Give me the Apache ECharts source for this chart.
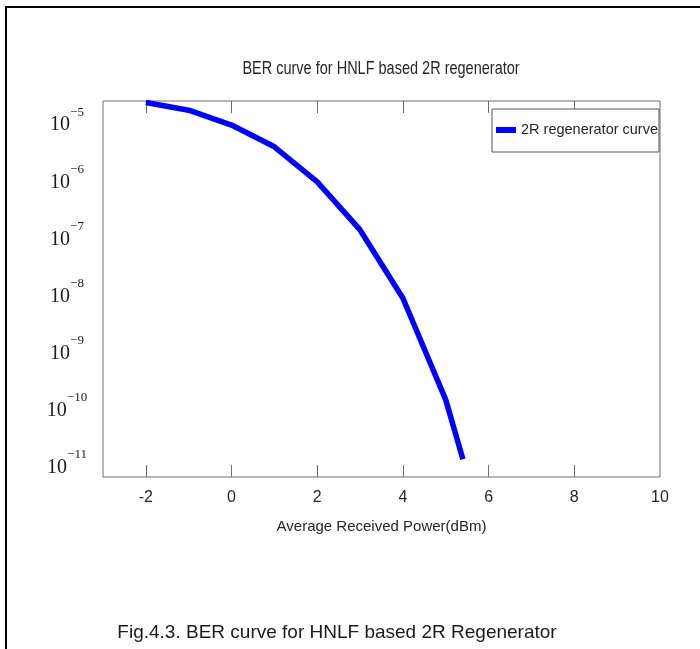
<!DOCTYPE html>
<html>
<head>
<meta charset="utf-8">
<script src="https://cdn.jsdelivr.net/npm/echarts@6/dist/echarts.min.js"></script>
<style>
  body { margin: 0; background: #fff; }
  #container { position: absolute; left: 0; top: 0; width: 700px; height: 649px; }
  #frame { position: absolute; left: 5px; top: 6px; width: 695px; height: 643px;
           border-top: 2px solid #000; border-left: 2px solid #000; pointer-events: none; }
</style>
</head>
<body>
<div id="container"></div>
<div id="frame"></div>
<script>
// data
var powers = [-2, -1, 0, 1, 2, 3, 4, 5, 5.4];   // Average Received Power (dBm)
var ber = [2.2e-5, 1.62e-5, 8.9e-6, 3.7e-6, 9.0e-7, 1.3e-7, 8.3e-9, 1.38e-10, 1.26e-11];
var xLabelValues = [-2, 0, 2, 4, 6, 8, 10];
var xTickValues = [-2, 0, 2, 4, 6, 8];
var seriesName = '2R regenerator curve';
var chartTitle = 'BER curve for HNLF based 2R regenerator';
var xName = 'Average Received Power(dBm)';
var caption = 'Fig.4.3. BER curve for HNLF based 2R Regenerator';

var sans = "'Liberation Sans', Arial, sans-serif";
var serif = "'Liberation Serif', 'Times New Roman', serif";
var frameColor = '#6e6e6e';

var points = [];
for (var i = 0; i < powers.length; i++) {
    points.push([powers[i], ber[i]]);
}

var myChart = echarts.init(document.getElementById('container'));

myChart.setOption({
    animation: false,
    graphic: [
        {
            type: 'text', x: 381, y: 69, scaleY: 1.3,
            style: { text: chartTitle, fontFamily: sans, fontSize: 14.5, fill: '#262626',
                     align: 'center', verticalAlign: 'middle' }
        },
        {
            type: 'text', x: 337, y: 633,
            style: { text: caption, fontFamily: sans, fontSize: 19,
                     fill: '#1a1a1a', align: 'center', verticalAlign: 'middle' }
        }
    ],
    grid: {
        left: 103, right: 40, top: 101, bottom: 172,
        show: true, borderColor: frameColor, borderWidth: 1, backgroundColor: '#fff'
    },
    legend: {
        left: 492, top: 109,
        padding: [11, 1, 12, 4],
        borderColor: '#555', borderWidth: 1, backgroundColor: '#fff',
        icon: 'rect', itemWidth: 20, itemHeight: 6,
        textStyle: { fontFamily: sans, fontSize: 14.5, color: '#262626', lineHeight: 20 },
        data: [seriesName]
    },
    xAxis: [
        {
            type: 'value', min: -3, max: 10, position: 'bottom',
            name: xName, nameLocation: 'middle', nameGap: 42,
            nameTextStyle: { fontFamily: sans, fontSize: 15, color: '#262626' },
            axisLine: { show: false },
            splitLine: { show: false },
            axisTick: { inside: true, length: 12, lineStyle: { color: frameColor }, customValues: xTickValues },
            axisLabel: { margin: 13, fontFamily: sans, fontSize: 16, color: '#262626', customValues: xLabelValues }
        },
        {
            type: 'value', min: -3, max: 10, position: 'top',
            axisLine: { show: false },
            splitLine: { show: false },
            axisTick: { inside: true, length: 12, lineStyle: { color: frameColor }, customValues: xTickValues },
            axisLabel: { show: false }
        }
    ],
    yAxis: {
        type: 'log', logBase: 10,
        min: Math.pow(10, -11.21), max: Math.pow(10, -4.63),
        axisLine: { show: false },
        axisTick: { show: false },
        splitLine: { show: false },
        axisLabel: {
            showMinLabel: false, showMaxLabel: false,
            align: 'center', margin: 36,
            formatter: function (v) {
                var e = Math.round(Math.log(v) / Math.LN10);
                return '{b|10}{s|\u2212' + (-e) + '}';
            },
            rich: {
                b: { fontFamily: serif, fontSize: 20, color: '#1a1a1a', padding: [6, 0, 0, 0] },
                s: { fontFamily: serif, fontSize: 13, color: '#1a1a1a', padding: [0, 0, 20, 0] }
            }
        }
    },
    series: [{
        name: seriesName,
        type: 'line',
        data: points,
        symbol: 'none',
        color: '#0000ff',
        lineStyle: { width: 5.5, color: '#0000ff' }
    }]
});
</script>
</body>
</html>
